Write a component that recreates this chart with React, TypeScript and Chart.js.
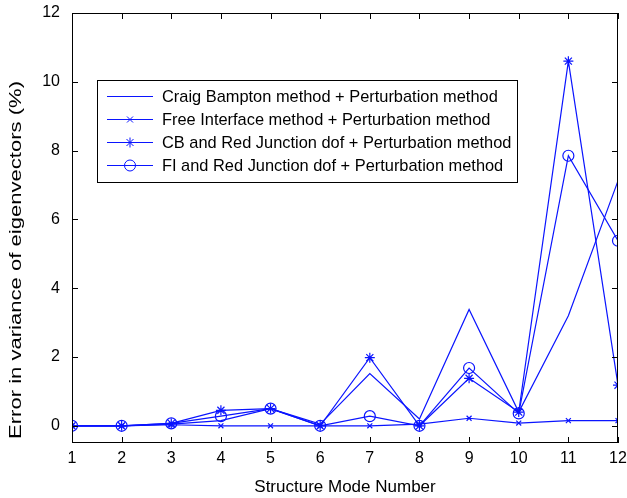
import React, { useEffect, useRef } from "react";
import { Chart, registerables } from "chart.js";

Chart.register(...registerables);

const modes = [1, 2, 3, 4, 5, 6, 7, 8, 9, 10, 11, 12];
const craigBampton = [0, 0, 0.05, 0.15, 0.5, 0.05, 1.52, 0.2, 3.38, 0.4, 3.2, 7.12];
const freeInterface = [0, 0, 0.03, 0, 0, 0, 0, 0.05, 0.22, 0.08, 0.15, 0.15];
const cbRedJunction = [0, 0, 0.07, 0.45, 0.5, 0, 1.98, 0, 1.38, 0.4, 10.6, 1.18];
const fiRedJunction = [0, 0, 0.07, 0.28, 0.5, 0, 0.28, 0, 1.68, 0.36, 7.85, 5.38];
const yTicks = [0, 2, 4, 6, 8, 10, 12];
const yTitle = "Error in variance of eigenvectors (%)";
const seriesNames = [
  "Craig Bampton method + Perturbation method",
  "Free Interface method + Perturbation method",
  "CB and Red Junction dof + Perturbation method",
  "FI and Red Junction dof + Perturbation method",
];

const BLUE = "#0a14ff";
const FONT = "'Liberation Sans', Arial, sans-serif";

function pts(vals: number[]) {
  return modes.map((m, i) => ({ x: m, y: vals[i] }));
}

function drawMarker(ctx: CanvasRenderingContext2D, kind: string, x: number, y: number) {
  ctx.beginPath();
  if (kind === "x") {
    const r = 3;
    ctx.moveTo(x - r, y - r); ctx.lineTo(x + r, y + r);
    ctx.moveTo(x - r, y + r); ctx.lineTo(x + r, y - r);
  } else if (kind === "star") {
    const r = 5;
    ctx.moveTo(x - r, y); ctx.lineTo(x + r, y);
    ctx.moveTo(x, y - r); ctx.lineTo(x, y + r);
    const d = r * 0.7;
    ctx.moveTo(x - d, y - d); ctx.lineTo(x + d, y + d);
    ctx.moveTo(x - d, y + d); ctx.lineTo(x + d, y - d);
  } else if (kind === "circle") {
    ctx.arc(x, y, 5.5, 0, Math.PI * 2);
  }
  ctx.stroke();
}

const frame = {
  id: "frame",
  afterDatasetsDraw(chart: any) {
    const { ctx, chartArea: a, scales } = chart;
    ctx.save();
    ctx.strokeStyle = "#000";
    ctx.lineWidth = 1;
    ctx.strokeRect(a.left + 0.5, a.top + 0.5, a.right - a.left - 1, a.bottom - a.top - 1);
    ctx.beginPath();
    for (const m of modes) {
      const px = Math.round(scales.x.getPixelForValue(m)) + 0.5;
      ctx.moveTo(px, a.bottom); ctx.lineTo(px, a.bottom - 6);
      ctx.moveTo(px, a.top); ctx.lineTo(px, a.top + 6);
    }
    for (const t of yTicks) {
      const py = Math.round(scales.y.getPixelForValue(t)) + 0.5;
      ctx.moveTo(a.left, py); ctx.lineTo(a.left + 6, py);
      ctx.moveTo(a.right, py); ctx.lineTo(a.right - 6, py);
    }
    ctx.stroke();

    // y-axis title (stretched along its length like the reference)
    ctx.save();
    ctx.font = `16px ${FONT}`;
    ctx.fillStyle = "#000";
    ctx.textAlign = "center";
    ctx.textBaseline = "middle";
    const w = ctx.measureText(yTitle).width;
    ctx.translate(17, 260);
    ctx.rotate(-Math.PI / 2);
    ctx.scale(358 / w, 1);
    ctx.fillText(yTitle, 0, 0);
    ctx.restore();

    // legend box
    const bx = 97, by = 80, bw = 420, bh = 102;
    ctx.fillStyle = "#fff";
    ctx.fillRect(bx, by, bw, bh);
    ctx.strokeStyle = "#000";
    ctx.strokeRect(bx + 0.5, by + 0.5, bw, bh);
    const rows = [96, 119, 142, 165];
    const kinds = ["", "x", "star", "circle"];
    ctx.font = `16.4px ${FONT}`;
    ctx.textBaseline = "middle";
    ctx.textAlign = "left";
    rows.forEach((ry, i) => {
      ctx.strokeStyle = BLUE;
      ctx.lineWidth = 1;
      ctx.beginPath();
      ctx.moveTo(107, ry + 0.5); ctx.lineTo(153, ry + 0.5);
      ctx.stroke();
      if (kinds[i]) drawMarker(ctx, kinds[i], 130, ry + 0.5);
      ctx.fillStyle = "#000";
      ctx.fillText(seriesNames[i], 162, ry + 1);
    });
    ctx.restore();
  },
};

export default function App() {
  const ref = useRef<HTMLCanvasElement>(null);
  useEffect(() => {
    document.body.style.margin = "0";
    const ds = (label: string, vals: number[], style: any, radius: number) => ({
      label,
      data: pts(vals),
      borderColor: BLUE,
      backgroundColor: "rgba(0,0,0,0)",
      borderWidth: 1.2,
      pointStyle: style,
      pointRadius: radius,
      pointBorderColor: BLUE,
      pointBorderWidth: 1.2,
      pointBackgroundColor: "rgba(0,0,0,0)",
      tension: 0,
    });
    const chart = new Chart(ref.current!, {
      type: "line",
      data: {
        datasets: [
          ds(seriesNames[0], craigBampton, false, 0),
          ds(seriesNames[1], freeInterface, "crossRot", 3.5),
          ds(seriesNames[2], cbRedJunction, "star", 5),
          ds(seriesNames[3], fiRedJunction, "circle", 5.5),
        ],
      },
      options: {
        animation: false,
        responsive: false,
        maintainAspectRatio: false,
        layout: { padding: { left: 0, right: 9, top: 13, bottom: 0 } },
        plugins: { legend: { display: false }, tooltip: { enabled: false } },
        scales: {
          x: {
            type: "linear",
            min: 1,
            max: 12,
            grid: { display: false, drawTicks: false },
            border: { display: false },
            ticks: {
              stepSize: 1,
              color: "#000",
              font: { family: FONT, size: 16 },
              padding: 6,
              maxRotation: 0,
            },
            title: {
              display: true,
              text: "Structure Mode Number",
              color: "#000",
              font: { family: FONT, size: 17 },
              padding: { top: 8, bottom: 0 },
            },
            afterFit: (s: any) => {
              s.height = 55;
              s.paddingLeft = 0;
              s.paddingRight = 0;
            },
          },
          y: {
            type: "linear",
            min: -0.5,
            max: 12,
            afterBuildTicks: (s: any) => { s.ticks = yTicks.map((v) => ({ value: v })); },
            grid: { display: false, drawTicks: false },
            border: { display: false },
            ticks: {
              color: "#000",
              font: { family: FONT, size: 16 },
              padding: 12,
            },
            title: { display: false },
            afterFit: (s: any) => {
              s.width = 72;
              s.paddingTop = 0;
              s.paddingBottom = 0;
            },
          },
        },
      },
      plugins: [frame],
    });
    return () => chart.destroy();
  }, []);
  return (
    <div style={{ width: 627, height: 498 }}>
      <canvas ref={ref} width={627} height={498} style={{ display: "block" }} />
    </div>
  );
}
